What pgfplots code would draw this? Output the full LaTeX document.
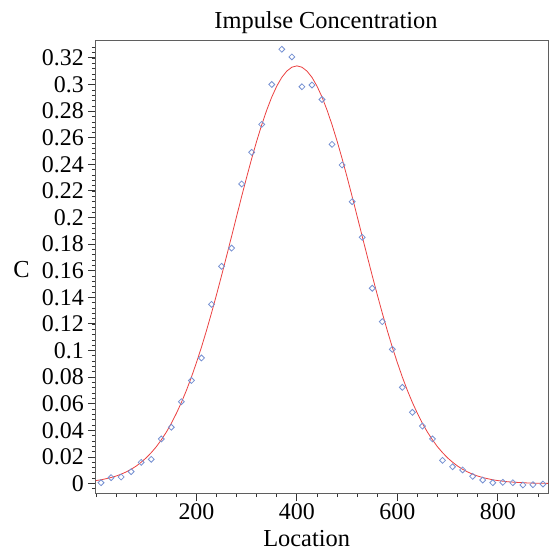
\documentclass[border=0pt]{standalone}
\usepackage{fontspec}
\setmainfont{Liberation Serif}
\usepackage{pgfplots}
\pgfplotsset{compat=1.18}
\definecolor{markblue}{RGB}{118,145,210}
\definecolor{fitred}{RGB}{235,65,65}
\definecolor{framegray}{RGB}{95,95,95}

\pgfplotstableread{
x y
10 0.0006
30 0.0044
50 0.0049
70 0.0089
90 0.0159
110 0.0182
130 0.0335
150 0.0423
170 0.0615
190 0.0775
210 0.0944
230 0.1347
250 0.1633
270 0.1770
290 0.2252
310 0.2490
330 0.2700
350 0.3000
370 0.3265
390 0.3207
410 0.2983
430 0.2996
450 0.2887
470 0.2550
490 0.2395
510 0.2119
530 0.1851
550 0.1468
570 0.1217
590 0.1009
610 0.0723
630 0.0535
650 0.0432
670 0.0335
690 0.0174
710 0.0126
730 0.0102
750 0.0054
770 0.0026
790 0.0006
810 0.0009
830 0.0006
850 -0.0011
870 -0.0009
890 -0.0004
}\pointdata

\pgfplotstableread{
x y
0 0.0022
10 0.0028
20 0.0036
30 0.0045
40 0.0056
50 0.0070
60 0.0087
70 0.0107
80 0.0131
90 0.0160
100 0.0193
110 0.0232
120 0.0276
130 0.0328
140 0.0386
150 0.0452
160 0.0527
170 0.0609
180 0.0700
190 0.0800
200 0.0909
210 0.1025
220 0.1150
230 0.1282
240 0.1420
250 0.1563
260 0.1710
270 0.1859
280 0.2009
290 0.2158
300 0.2303
310 0.2443
320 0.2575
330 0.2697
340 0.2808
350 0.2906
360 0.2988
370 0.3054
380 0.3101
390 0.3130
400 0.3140
410 0.3130
420 0.3101
430 0.3054
440 0.2988
450 0.2906
460 0.2808
470 0.2697
480 0.2575
490 0.2443
500 0.2303
510 0.2158
520 0.2009
530 0.1859
540 0.1710
550 0.1563
560 0.1420
570 0.1282
580 0.1150
590 0.1025
600 0.0909
610 0.0800
620 0.0700
630 0.0609
640 0.0527
650 0.0452
660 0.0386
670 0.0328
680 0.0276
690 0.0232
700 0.0193
710 0.0160
720 0.0131
730 0.0107
740 0.0087
750 0.0070
760 0.0056
770 0.0045
780 0.0036
790 0.0028
800 0.0022
820 0.0013
840 0.0008
860 0.0004
880 0.0002
900 0.0001
}\curvedata

\begin{document}
\begin{tikzpicture}
\begin{axis}[
  scale only axis,
  width=452bp, height=452bp,
  xmin=0, xmax=900,
  ymin=-0.00714, ymax=0.3327,
  axis line style={framegray, line width=1bp},
  tick style={black!80, line width=0.8bp},
  tick align=outside,
  xtick pos=bottom, ytick pos=left,
  major tick length=8bp, minor tick length=4bp,
  xtick={200,400,600,800},
  minor xtick={0,40,...,880},
  ytick={0,0.02,0.04,0.06,0.08,0.1,0.12,0.14,0.16,0.18,0.2,0.22,0.24,0.26,0.28,0.3,0.32},
  minor ytick={-0.004,0,0.004,...,0.329},
  scaled y ticks=false,
  yticklabel style={/pgf/number format/fixed, /pgf/number format/precision=2},
  /pgf/number format/assume math mode=true,
  tick label style={font=\fontsize{24}{24}\selectfont, inner sep=0pt},
  yticklabel style={anchor=east, xshift=-4bp},
  xticklabel style={anchor=north, yshift=-2.5bp},
  every axis title shift=0pt,
  title={Impulse Concentration},
  title style={at={(rel axis cs:0.5088,1.028)}, anchor=base, font=\fontsize{24.5}{28}\selectfont, inner sep=0pt},
  xlabel={Location},
  xlabel style={at={(rel axis cs:0.466,-0.1173)}, anchor=base, font=\fontsize{24.5}{28}\selectfont, inner sep=0pt},
  ylabel={C},
  ylabel style={at={(rel axis cs:-0.1648,0.4934)}, rotate=-90, anchor=center, font=\fontsize{24.5}{28}\selectfont, inner sep=0pt},
]
\addplot[fitred, line width=0.8bp, no markers] table[x=x, y=y] {\curvedata};
\addplot[only marks, mark=square, mark size=2.1bp, mark options={rotate=45, draw=markblue, fill=none, line width=0.8bp}] table[x=x, y=y] {\pointdata};
\end{axis}
\pgfresetboundingbox
\useasboundingbox (-96bp,-57bp) rectangle (456bp,493bp);
\end{tikzpicture}
\end{document}
